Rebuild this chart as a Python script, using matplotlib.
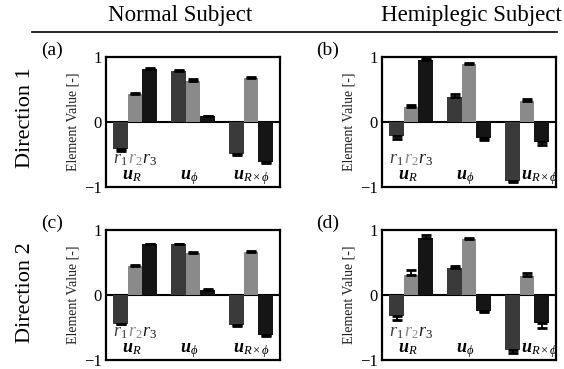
import matplotlib
matplotlib.use('Agg')
import matplotlib.pyplot as plt
import numpy as np

plt.rcParams['font.family'] = ['Liberation Serif', 'DejaVu Serif']
plt.rcParams['mathtext.fontset'] = 'custom'
plt.rcParams['mathtext.rm'] = 'Liberation Serif'
plt.rcParams['mathtext.it'] = 'Liberation Serif:italic'
plt.rcParams['mathtext.bf'] = 'Liberation Serif:bold:italic'

# data: rows = groups (u_R, u_phi, u_Rxphi), columns = r1, r2, r3
group_labels = [r'$\mathbf{u}_{R}$', r'$\mathbf{u}_{\phi}$', r'$\mathbf{u}_{R\times\phi}$']
r_labels = [r'$r_1$', r'$r_2$', r'$r_3$']
col_titles = ['Normal Subject', 'Hemiplegic Subject']
row_titles = ['Direction 1', 'Direction 2']
panel_tags = ['(a)', '(b)', '(c)', '(d)']

vals_a = [[-0.42, 0.43, 0.82], [0.78, 0.63, 0.09], [-0.49, 0.67, -0.61]]
err_a = [[0.02, 0.02, 0.015], [0.02, 0.025, 0.01], [0.02, 0.02, 0.015]]
vals_b = [[-0.22, 0.23, 0.95], [0.39, 0.89, -0.25], [-0.90, 0.32, -0.30]]
err_b = [[0.04, 0.035, 0.035], [0.04, 0.015, 0.025], [0.025, 0.04, 0.05]]
vals_c = [[-0.44, 0.45, 0.78], [0.78, 0.64, 0.08], [-0.46, 0.66, -0.62]]
err_c = [[0.01, 0.015, 0.01], [0.01, 0.015, 0.01], [0.015, 0.015, 0.01]]
vals_d = [[-0.33, 0.31, 0.87], [0.41, 0.86, -0.25], [-0.85, 0.29, -0.43]]
err_d = [[0.05, 0.07, 0.05], [0.03, 0.015, 0.01], [0.04, 0.05, 0.07]]

panels = [(vals_a, err_a), (vals_b, err_b), (vals_c, err_c), (vals_d, err_d)]
colors = ['#3a3a3a', '#8a8a8a', '#151515']

W, H = 564, 369
fig = plt.figure(figsize=(W / 100, H / 100), dpi=100)

def fx(px):
    return px / W

def fy(px):
    return 1 - px / H

ax_left = [106, 382]
ax_top = [57, 230]
ax_w, ax_h = 174, 130
bw = 0.25
xg = np.arange(1, 4)

for i, (vals, errs) in enumerate(panels):
    r, c = divmod(i, 2)
    ax = fig.add_axes([fx(ax_left[c]), fy(ax_top[r] + ax_h), ax_w / W, ax_h / H])
    vals = np.array(vals)
    errs = np.array(errs)
    ax.axhline(0, color='k', lw=1.5, zorder=1)
    for j in range(3):
        x = xg + (j - 1) * bw
        v = vals[:, j]
        e = errs[:, j]
        # one-sided error bars, pointing away from zero
        lo = np.where(v < 0, e, 0)
        hi = np.where(v >= 0, e, 0)
        ax.bar(x, v, width=bw, color=colors[j], zorder=2)
        ax.errorbar(x, v, yerr=[lo, hi], fmt='none', ecolor='k',
                    elinewidth=1.3, capsize=3.5, capthick=2, zorder=3)
        ax.text(xg[0] + (j - 1) * bw, -0.63, r_labels[j], color=colors[j],
                fontsize=13, ha='center', va='baseline', zorder=4)
    for k in range(3):
        dx = -0.06 if k < 2 else 0.0
        if k == 2 and c == 1:
            dx = 0.22
        ax.text(xg[k] + dx, -0.88, group_labels[k], fontsize=13,
                ha='center', va='baseline', zorder=4)
    ax.set_xlim(0.5, 3.5)
    ax.set_ylim(-1, 1)
    ax.set_xticks([])
    ax.set_yticks([-1, 0, 1])
    ax.set_yticklabels(['\u22121', '0', '1'])
    ax.tick_params(axis='y', length=0, pad=3, labelsize=12)
    for s in ax.spines.values():
        s.set_linewidth(1.6)
    ax.set_ylabel('Element Value [-]', fontsize=10, color='#222222')
    ax.yaxis.set_label_coords(-0.15, 0.5)
    fig.text(fx(ax_left[c] - 54), fy(ax_top[r] - 7), panel_tags[i],
             fontsize=14, ha='center', va='center')

for c, t in enumerate(col_titles):
    fig.text(fx([180, 471][c]), fy(21), t, fontsize=16.5, ha='center', va='baseline')

for r, t in enumerate(row_titles):
    fig.text(fx(26), fy([118, 293][r]), t, fontsize=16, rotation=90,
             ha='center', va='center')

fig.add_artist(plt.Line2D([fx(32), fx(557)], [fy(32), fy(32)], color='k', lw=1.2))

fig.savefig('out.png', dpi=100, facecolor='white')
